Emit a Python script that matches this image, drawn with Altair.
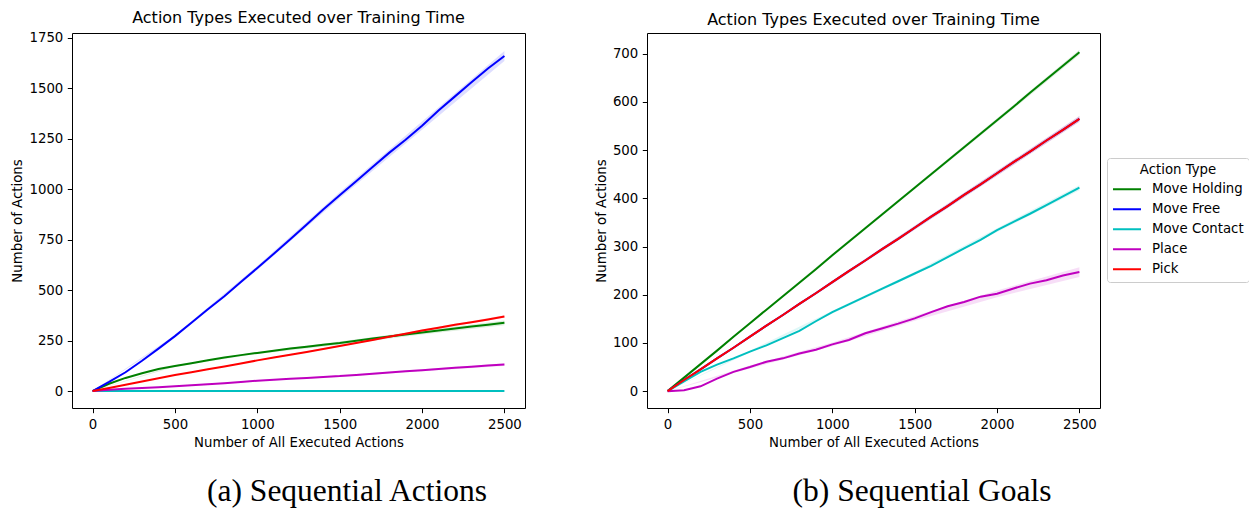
import altair as alt
import pandas as pd

# ---------------- data ----------------
X = list(range(0, 2501, 100))
SERIES = ["Move Holding", "Move Free", "Move Contact", "Place", "Pick"]
COLORS = ["#008000", "#0000ff", "#00bfbf", "#bf00bf", "#ff0000"]
X_TICKS = [0, 500, 1000, 1500, 2000, 2500]
A_Y_TICKS = [0, 250, 500, 750, 1000, 1250, 1500, 1750]
B_Y_TICKS = [0, 100, 200, 300, 400, 500, 600, 700]

# (a) Sequential Actions
A_HOLD = [0, 36, 65, 88, 109, 124, 138, 153, 166, 178, 189, 200, 211, 220, 229, 238,
          249, 260, 270, 280, 290, 300, 310, 320, 329, 338]
A_FREE = [0, 45, 93, 150, 210, 272, 338, 405, 470, 540, 610, 680, 752, 825, 900, 970,
          1040, 1110, 1180, 1245, 1315, 1390, 1460, 1530, 1598, 1660]
A_CONTACT = [0] * 26
A_PLACE = [0, 6, 11, 15, 19, 24, 29, 34, 39, 45, 51, 56, 61, 65, 70, 74,
           80, 86, 92, 98, 103, 109, 115, 120, 126, 131]
A_PICK = [0, 15, 31, 47, 63, 79, 93, 108, 122, 137, 152, 166, 180, 194, 208, 223,
          238, 253, 269, 284, 300, 314, 328, 341, 355, 369]

# (b) Sequential Goals
B_HOLD = [0, 28, 56, 84, 113, 141, 169, 197, 225, 253, 282, 310, 338, 366, 394, 422,
          450, 478, 506, 534, 562, 590, 619, 647, 675, 703]
B_FREE = [0, 23, 45, 68, 90, 113, 136, 158, 181, 203, 226, 249, 271, 294, 316, 339,
          362, 384, 407, 429, 452, 475, 497, 520, 542, 565]
B_CONTACT = [0, 20, 40, 55, 68, 82, 95, 110, 125, 145, 164, 180, 196, 212, 228, 244,
             260, 278, 296, 314, 334, 351, 368, 386, 404, 422]
B_PLACE = [0, 2, 10, 26, 40, 50, 61, 68, 78, 86, 97, 106, 120, 130, 140, 151,
           164, 176, 185, 196, 202, 213, 223, 230, 240, 247]
B_PICK = [0, 23, 45, 68, 90, 113, 136, 158, 181, 203, 226, 249, 271, 294, 316, 339,
          362, 384, 407, 429, 452, 475, 497, 520, 542, 565]

# confidence band half-widths at coarse x positions
BAND_X = [0, 500, 1000, 1500, 2000, 2500]
A_BAND = {"Move Holding": [0, 4, 5, 8, 10, 12], "Move Free": [0, 6, 10, 15, 20, 25],
          "Move Contact": [0, 0, 0, 0, 0, 0], "Place": [0, 2, 3, 4, 5, 7],
          "Pick": [0, 2, 3, 4, 5, 6]}
B_BAND = {"Move Holding": [0, 2, 3, 3, 4, 5], "Move Free": [0, 2, 3, 4, 5, 6],
          "Move Contact": [0, 2, 3, 3, 4, 5], "Place": [0, 3, 4, 5, 7, 10],
          "Pick": [0, 2, 3, 4, 5, 6]}

A_VALUES = dict(zip(SERIES, [A_HOLD, A_FREE, A_CONTACT, A_PLACE, A_PICK]))
B_VALUES = dict(zip(SERIES, [B_HOLD, B_FREE, B_CONTACT, B_PLACE, B_PICK]))

TITLE = "Action Types Executed over Training Time"
X_TITLE = "Number of All Executed Actions"
Y_TITLE = "Number of Actions"

PW, PH = 453, 375
FONT = "DejaVu Sans"


def panel(values, bands, y_dom, y_ticks, caption):
    rows = [{"x": x, "series": s, "y": v} for s in SERIES for x, v in zip(X, values[s])]
    df = pd.DataFrame(rows)

    xs = alt.Scale(domain=[-125, 2625], nice=False, zero=False)
    ys = alt.Scale(domain=y_dom, nice=False, zero=False)
    xax = alt.Axis(values=X_TICKS, format="d", title=X_TITLE)
    yax = alt.Axis(values=y_ticks, format="d", title=Y_TITLE)
    cscale = alt.Scale(domain=SERIES, range=COLORS)

    layers = []
    for s, col in zip(SERIES, COLORS):
        brows = []
        for bx, hw in zip(BAND_X, bands[s]):
            v = values[s][X.index(bx)]
            brows.append({"x": bx, "lo": v - hw, "hi": v + hw})
        layers.append(
            alt.Chart(pd.DataFrame(brows)).mark_area(color=col, opacity=0.13).encode(
                x=alt.X("x:Q", scale=xs, axis=xax),
                y=alt.Y("lo:Q", scale=ys, axis=yax),
                y2="hi:Q",
            )
        )
    for s in SERIES:
        layers.append(
            alt.Chart(df[df.series == s]).mark_line(strokeWidth=2).encode(
                x=alt.X("x:Q", scale=xs, axis=xax),
                y=alt.Y("y:Q", scale=ys, axis=yax),
                color=alt.Color("series:N", scale=cscale, title="Action Type"),
            )
        )
    cap = alt.Chart(pd.DataFrame({"t": [caption]})).mark_text(
        font="Liberation Serif", fontSize=31.5, align="center", baseline="middle", color="black"
    ).encode(text="t:N", x=alt.value(275), y=alt.value(459))
    layers.append(cap)

    return alt.layer(*layers).properties(
        width=PW, height=PH,
        title=alt.TitleParams(TITLE, font=FONT, fontSize=16, fontWeight="normal",
                              color="black", offset=5, anchor="middle"),
    )


pa = panel(A_VALUES, A_BAND, [-84, 1774], A_Y_TICKS, "(a) Sequential Actions")
pb = panel(B_VALUES, B_BAND, [-35, 743], B_Y_TICKS, "(b) Sequential Goals")

chart = alt.hconcat(pa, pb, spacing=122, bounds="flush").properties(
    autosize=alt.AutoSizeParams(type="none"),
    padding={"left": 72, "top": 33, "right": 1177, "bottom": 475},
    background="white",
).configure_view(
    stroke="black", strokeWidth=1
).configure_axis(
    grid=False, domain=False,
    tickColor="black", tickSize=4.7, tickWidth=1,
    labelFont=FONT, labelFontSize=13.3, labelColor="black", labelPadding=4.5,
    titleFont=FONT, titleFontSize=13.3, titleFontWeight="normal", titleColor="black",
).configure_axisX(
    titlePadding=5
).configure_axisY(
    titlePadding=4
).configure_legend(
    orient="none", legendX=1035, legendY=125,
    symbolType="stroke", symbolSize=784, symbolStrokeWidth=2,
    clipHeight=14,
    labelFont=FONT, labelFontSize=13.3, labelColor="black", labelOffset=10,
    titleFont=FONT, titleFontSize=13.3, titleFontWeight="normal", titleColor="black",
    titleAnchor="middle", titlePadding=6, rowPadding=6,
    padding=5, strokeColor="#cccccc", fillColor="white", cornerRadius=3,
)

chart.save("out.html", embed_options={"renderer": "svg", "actions": False})
